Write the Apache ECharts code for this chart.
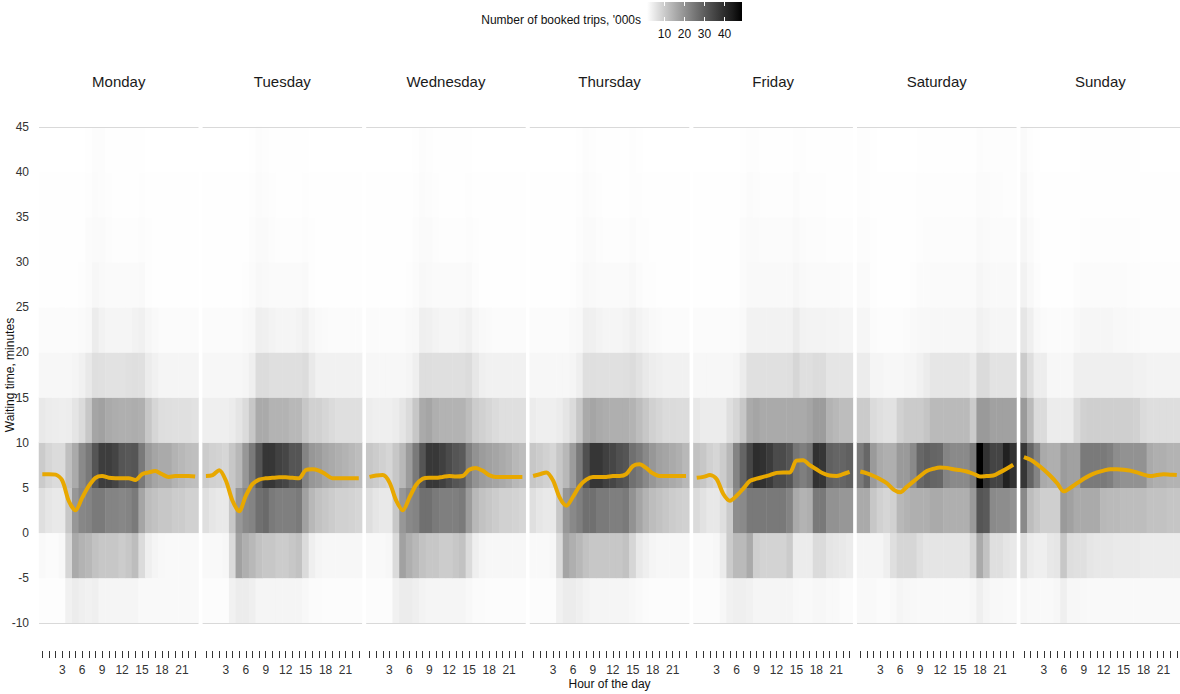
<!DOCTYPE html>
<html>
<head>
<meta charset="utf-8">
<script src="https://cdn.jsdelivr.net/npm/echarts@6.0.0/dist/echarts.min.js"></script>
<style>html,body{margin:0;padding:0;background:#fff;}#main{width:1180px;height:694px;}</style>
</head>
<body>
<div id="main"></div>
<script>
// ---------- data ----------
const days = ['Monday','Tuesday','Wednesday','Thursday','Friday','Saturday','Sunday'];
const hours = ['0','1','2','3','4','5','6','7','8','9','10','11','12','13','14','15','16','17','18','19','20','21','22','23'];
const hourLabels = [3, 6, 9, 12, 15, 18, 21];
// waiting-time bins (lower bound, minutes), 5-minute wide, from -10 up to 45
const bins = ['-10','-5','0','5','10','15','20','25','30','35','40'];
const yTicks = [-10, 45, 5];           // min, max, step of the waiting-time axis
const legendTicks = [10, 20, 30, 40];  // colour-bar labels
const legendRange = [1.3, 48.7];       // colour-bar extent, '000s

// booked trips ('000s); one row per bin (from -10 upward), 24 hourly values per row
const monday = [
  [1.6,1.6,1.6,1.6,3.6,4.4,3.9,3.6,3.9,3.0,3.0,3.0,3.0,3.0,3.0,2.2,2.2,2.2,2.2,2.2,2.2,2.2,2.2,2.2],
  [2.2,2.0,2.0,2.4,8.1,15.7,14.1,13.2,11.5,10.6,10.6,10.6,9.8,10.6,12.3,7.3,3.9,3.0,2.4,2.2,2.2,2.2,2.2,2.2],
  [6.5,5.4,4.9,4.9,10.6,19.2,22.0,22.7,24.5,24.5,22.7,22.7,22.0,22.7,24.5,16.6,12.3,11.5,10.6,10.6,9.8,9.8,8.9,8.9],
  [9.9,8.1,7.3,7.3,12.0,15.7,21.6,24.7,31.5,36.5,36.5,35.0,31.5,31.0,31.5,24.7,18.7,16.6,15.7,15.7,14.1,13.2,12.3,12.0],
  [4.9,4.4,4.2,4.0,4.2,5.6,7.3,10.6,16.6,17.4,15.7,15.2,14.9,14.9,15.2,14.9,10.6,8.1,6.8,6.5,6.3,6.3,6.3,6.0],
  [2.6,2.6,2.6,2.6,2.6,3.0,3.6,4.9,6.5,6.3,6.0,6.0,6.0,6.3,6.5,6.3,4.4,3.6,3.0,3.0,3.0,3.0,3.0,3.0],
  [2.0,2.0,2.0,2.0,2.0,2.0,2.1,2.4,4.4,3.4,3.0,3.0,3.0,3.0,3.4,3.8,2.7,2.2,2.0,2.0,2.0,2.0,2.0,2.0],
  [1.5,1.5,1.5,1.5,1.5,1.5,1.6,2.0,2.6,2.3,2.1,2.1,2.1,2.1,2.1,2.2,1.7,1.5,1.5,1.5,1.5,1.5,1.5,1.5],
  [1.5,1.5,1.5,1.4,1.4,1.4,1.5,1.9,2.1,2.1,1.8,1.7,1.7,1.7,1.7,1.8,1.6,1.5,1.4,1.4,1.4,1.4,1.4,1.4],
  [1.4,1.4,1.4,1.4,1.4,1.4,1.4,1.7,1.9,1.8,1.6,1.5,1.5,1.5,1.5,1.6,1.5,1.4,1.4,1.4,1.4,1.4,1.4,1.4],
  [1.3,1.3,1.3,1.3,1.3,1.3,1.3,1.5,1.8,1.8,1.5,1.4,1.4,1.4,1.4,1.5,1.3,1.3,1.3,1.3,1.3,1.3,1.3,1.3]
];
const tuesday = [
  [1.8,1.8,1.8,1.8,3.6,4.4,4.4,3.9,3.0,3.0,3.0,3.0,3.0,3.0,3.0,2.4,2.0,2.0,1.8,1.8,1.8,1.8,1.8,1.8],
  [2.2,2.2,2.2,2.6,7.3,17.4,14.9,13.2,11.5,10.6,10.6,9.8,9.8,10.6,11.5,7.3,3.9,3.0,2.6,2.6,2.6,2.6,2.6,2.6],
  [6.5,5.4,4.9,4.9,10.6,19.2,21.8,22.7,26.4,27.4,24.5,23.6,23.6,23.6,24.5,17.4,13.2,11.5,10.6,9.8,8.9,8.9,8.6,8.1],
  [9.8,8.9,8.6,8.1,10.6,13.2,19.2,24.5,31.5,38.0,38.0,35.8,34.7,31.5,31.5,22.7,19.2,18.3,16.6,15.7,14.9,14.1,13.2,12.3],
  [3.9,3.9,3.9,3.9,4.4,5.6,7.3,10.6,15.7,15.7,14.1,14.1,14.1,13.2,13.2,10.6,8.9,8.9,8.1,7.3,6.5,6.5,6.5,6.5],
  [2.6,2.6,2.6,2.6,2.6,2.6,3.0,3.9,7.0,7.0,6.5,6.5,6.5,6.5,6.5,7.0,4.9,3.6,3.6,3.6,3.6,3.6,3.6,3.6],
  [2.0,2.0,2.0,2.0,2.0,2.0,2.2,2.5,3.9,3.7,3.2,3.0,3.0,3.0,3.2,3.7,2.7,2.3,2.1,2.0,2.0,2.0,2.0,2.0],
  [1.5,1.5,1.5,1.5,1.5,1.5,1.6,2.0,2.5,2.3,2.1,2.1,2.1,2.1,2.1,2.2,1.7,1.5,1.5,1.5,1.5,1.5,1.5,1.5],
  [1.5,1.5,1.5,1.4,1.4,1.4,1.5,1.8,2.1,2.1,1.8,1.7,1.7,1.7,1.7,1.8,1.6,1.5,1.4,1.4,1.4,1.4,1.4,1.4],
  [1.4,1.4,1.4,1.4,1.4,1.4,1.4,1.6,1.9,1.8,1.6,1.5,1.5,1.5,1.5,1.6,1.5,1.4,1.4,1.4,1.4,1.4,1.4,1.4],
  [1.3,1.3,1.3,1.3,1.3,1.3,1.3,1.5,1.8,1.7,1.5,1.4,1.4,1.4,1.4,1.5,1.3,1.3,1.3,1.3,1.3,1.3,1.3,1.3]
];
const wednesday = [
  [1.8,1.8,1.8,1.8,3.6,4.4,4.4,3.9,3.2,3.0,3.0,3.0,3.0,3.0,3.0,2.4,2.0,2.0,1.8,1.8,1.8,1.8,1.8,1.8],
  [2.2,2.2,2.2,2.6,7.3,17.4,14.9,13.2,11.5,10.6,10.6,9.8,9.8,10.6,11.5,7.3,3.9,3.0,2.6,2.6,2.6,2.6,2.6,2.6],
  [6.5,5.4,4.9,4.9,10.6,19.2,21.8,22.7,26.4,26.4,24.5,23.6,23.6,23.6,24.5,18.3,13.2,11.5,10.6,9.8,8.9,8.9,8.6,8.1],
  [10.6,9.8,8.9,8.1,10.6,13.2,18.3,24.5,31.5,37.5,37.5,36.0,33.6,31.5,30.5,23.6,20.0,18.3,17.4,16.6,15.7,14.9,13.2,12.3],
  [4.2,3.9,3.9,3.9,4.4,5.6,7.3,10.6,15.7,16.6,14.9,14.1,14.1,14.1,14.1,12.3,9.8,8.9,8.1,7.3,6.5,6.5,6.5,6.5],
  [2.6,2.6,2.6,2.6,2.6,2.6,3.0,3.9,6.8,6.8,6.5,6.5,6.5,6.5,6.5,7.0,5.2,3.9,3.6,3.6,3.6,3.6,3.6,3.6],
  [2.0,2.0,2.0,2.0,2.0,2.0,2.2,2.5,3.9,3.7,3.2,3.0,3.0,3.0,3.2,3.7,2.8,2.3,2.1,2.0,2.0,2.0,2.0,2.0],
  [1.5,1.5,1.5,1.5,1.5,1.5,1.6,2.0,2.5,2.3,2.1,2.1,2.1,2.1,2.1,2.2,1.8,1.5,1.5,1.5,1.5,1.5,1.5,1.5],
  [1.5,1.5,1.5,1.4,1.4,1.4,1.5,1.8,2.1,2.1,1.8,1.7,1.7,1.7,1.7,1.8,1.6,1.5,1.4,1.4,1.4,1.4,1.4,1.4],
  [1.4,1.4,1.4,1.4,1.4,1.4,1.4,1.6,1.9,1.8,1.6,1.5,1.5,1.5,1.5,1.6,1.5,1.4,1.4,1.4,1.4,1.4,1.4,1.4],
  [1.3,1.3,1.3,1.3,1.3,1.3,1.3,1.5,1.8,1.7,1.5,1.4,1.4,1.4,1.4,1.5,1.3,1.3,1.3,1.3,1.3,1.3,1.3,1.3]
];
const thursday = [
  [1.8,1.8,1.8,1.8,3.6,4.4,4.4,3.9,3.2,3.0,3.0,3.0,3.0,3.0,3.0,2.6,2.2,2.0,1.8,1.8,1.8,1.8,1.8,1.8],
  [2.2,2.2,2.2,2.6,7.3,16.6,14.9,13.2,11.5,10.6,10.6,10.6,10.6,10.6,11.5,8.1,4.9,3.9,3.0,2.6,2.6,2.6,2.6,2.6],
  [6.5,5.4,4.9,4.9,10.6,19.2,21.8,23.6,26.4,26.4,24.5,24.5,23.6,23.6,24.5,20.0,16.6,14.1,12.3,11.5,10.6,9.8,9.3,8.9],
  [10.6,9.8,8.9,8.1,10.6,13.2,18.3,24.5,32.6,38.0,38.0,36.0,34.7,32.6,31.5,26.4,24.5,21.8,19.2,17.4,16.6,15.7,14.9,13.2],
  [4.4,3.9,3.9,3.9,4.4,5.6,7.3,10.6,15.7,16.6,15.7,15.2,14.9,14.9,14.9,14.1,12.3,10.6,8.9,8.1,7.3,7.3,7.0,7.0],
  [2.6,2.6,2.6,2.6,2.6,2.6,3.0,3.9,6.5,6.5,6.3,6.3,6.3,6.3,6.5,7.0,6.0,4.9,4.2,3.9,3.6,3.6,3.6,3.6],
  [2.0,2.0,2.0,2.0,2.0,2.0,2.2,2.5,3.9,3.7,3.2,3.0,3.0,3.0,3.2,3.9,3.2,2.7,2.3,2.1,2.0,2.0,2.0,2.0],
  [1.5,1.5,1.5,1.5,1.5,1.5,1.6,2.0,2.5,2.3,2.1,2.1,2.1,2.1,2.1,2.4,2.0,1.7,1.6,1.5,1.5,1.5,1.5,1.5],
  [1.5,1.5,1.5,1.4,1.4,1.4,1.5,1.8,2.1,2.1,1.8,1.7,1.7,1.7,1.7,2.0,1.7,1.6,1.5,1.4,1.4,1.4,1.4,1.4],
  [1.4,1.4,1.4,1.4,1.4,1.4,1.4,1.6,1.9,1.8,1.6,1.5,1.5,1.5,1.5,1.7,1.6,1.5,1.4,1.4,1.4,1.4,1.4,1.4],
  [1.3,1.3,1.3,1.3,1.3,1.3,1.3,1.5,1.8,1.7,1.5,1.4,1.4,1.4,1.4,1.6,1.4,1.3,1.3,1.3,1.3,1.3,1.3,1.3]
];
const friday = [
  [1.8,1.8,1.8,1.8,2.6,3.6,3.9,3.9,3.6,3.0,3.0,3.0,3.0,3.0,3.0,2.4,2.2,2.2,2.6,2.6,2.2,2.2,2.0,2.0],
  [2.2,2.2,2.2,2.6,4.4,9.9,12.8,12.8,15.7,9.3,8.5,8.5,8.5,8.5,9.9,4.4,4.4,4.4,7.2,7.2,5.6,5.2,4.9,4.4],
  [7.3,6.0,5.0,5.0,6.5,9.9,20.9,21.6,24.7,24.7,24.7,24.7,24.7,24.7,22.7,15.7,14.1,14.9,24.7,24.7,20.0,20.0,19.2,19.2],
  [11.5,10.6,8.9,8.1,9.8,13.2,22.7,28.4,34.7,40.0,39.0,36.9,33.6,33.6,31.5,25.4,23.6,25.4,39.0,38.0,29.4,28.4,28.4,29.4],
  [5.0,4.4,4.4,4.4,4.4,6.5,8.1,10.6,15.7,16.6,15.7,15.7,15.7,15.7,15.7,15.7,15.7,16.6,18.3,18.3,14.1,13.2,12.3,12.3],
  [2.6,2.6,2.6,2.6,2.6,2.6,3.0,4.4,6.3,6.3,6.3,6.3,6.3,6.3,6.5,8.1,6.5,6.5,7.0,7.0,5.6,5.6,5.6,5.6],
  [1.9,1.9,1.9,1.9,1.9,1.9,2.0,2.3,3.4,3.4,3.4,3.4,3.4,3.4,3.4,4.6,3.4,3.2,3.2,3.2,3.1,3.1,3.0,3.0],
  [1.5,1.5,1.5,1.5,1.5,1.5,1.5,2.0,2.3,2.3,2.3,2.3,2.3,2.3,2.3,2.7,2.3,2.1,2.1,2.1,2.1,2.1,2.0,2.0],
  [1.4,1.4,1.4,1.4,1.4,1.4,1.5,1.9,2.1,2.1,1.9,1.9,1.9,1.9,1.9,2.3,1.9,1.8,1.8,1.8,1.7,1.7,1.7,1.7],
  [1.4,1.4,1.4,1.4,1.4,1.4,1.4,1.7,1.9,1.8,1.6,1.6,1.6,1.6,1.6,1.9,1.7,1.6,1.6,1.6,1.5,1.5,1.5,1.5],
  [1.3,1.3,1.3,1.3,1.3,1.3,1.3,1.5,1.7,1.7,1.5,1.5,1.5,1.5,1.5,1.7,1.6,1.5,1.5,1.5,1.4,1.4,1.4,1.4]
];
const saturday = [
  [2.2,2.2,2.2,2.0,2.0,2.2,3.0,2.6,2.4,2.2,2.2,2.2,2.2,2.2,2.2,2.2,2.2,2.6,3.9,3.0,2.4,2.4,2.2,2.2],
  [3.0,3.0,3.0,3.0,3.9,6.5,8.1,8.1,8.1,6.5,5.6,5.6,5.6,5.6,5.6,5.6,5.6,8.1,15.7,11.5,6.5,6.5,5.6,4.9],
  [15.7,15.7,10.6,8.9,8.1,8.9,13.2,14.1,14.9,14.9,14.9,15.7,15.7,14.9,14.9,14.9,14.9,18.7,31.5,30.5,21.6,20.9,20.9,20.0],
  [24.5,28.0,18.7,15.7,14.9,14.9,18.7,18.7,21.6,28.0,29.4,28.4,28.0,22.7,21.6,21.6,21.6,24.5,48.7,38.8,35.0,35.0,42.5,38.8],
  [9.9,9.9,7.3,6.5,6.0,6.0,8.9,9.9,9.9,9.9,11.0,12.8,12.8,12.8,12.8,12.8,12.8,9.9,18.7,18.7,17.4,17.4,17.4,17.4],
  [4.4,4.4,3.0,3.0,2.6,2.6,2.6,3.0,3.0,3.6,4.4,5.4,5.4,5.4,5.4,5.4,5.4,4.4,7.2,7.2,5.8,5.8,5.8,5.8],
  [2.7,2.7,2.0,1.8,1.8,1.8,1.8,2.0,2.2,2.4,2.4,2.6,2.6,2.6,2.6,2.6,2.6,2.6,3.6,3.3,2.8,2.8,2.8,2.8],
  [2.1,2.1,1.7,1.5,1.5,1.5,1.5,1.5,1.7,1.9,2.0,2.1,2.1,2.1,2.1,2.1,2.1,2.1,2.7,2.4,2.3,2.3,2.3,2.3],
  [1.8,1.8,1.6,1.4,1.4,1.4,1.4,1.4,1.5,1.7,1.8,1.8,1.8,1.8,1.8,1.8,1.8,1.8,2.3,2.1,2.0,2.0,2.0,2.0],
  [1.7,1.7,1.5,1.4,1.4,1.4,1.4,1.4,1.4,1.6,1.7,1.7,1.7,1.7,1.7,1.7,1.7,1.7,2.0,1.9,1.8,1.8,1.7,1.7],
  [1.6,1.6,1.4,1.3,1.3,1.3,1.3,1.3,1.3,1.4,1.5,1.5,1.5,1.5,1.5,1.5,1.5,1.5,1.8,1.7,1.6,1.6,1.6,1.6]
];
const sunday = [
  [2.6,2.2,2.2,2.2,2.2,2.6,3.9,2.6,2.6,2.4,2.2,2.2,2.2,2.2,2.2,2.2,2.2,2.2,2.2,2.2,2.2,2.2,2.2,2.2],
  [6.8,4.4,3.9,3.9,5.0,5.4,10.6,6.8,6.3,6.3,5.4,5.0,5.0,5.0,4.7,4.7,4.7,4.7,4.4,4.4,4.4,4.4,4.4,4.4],
  [21.8,12.3,10.6,9.3,9.3,9.3,18.7,17.4,15.7,15.7,15.7,15.7,13.2,12.8,12.8,12.3,12.3,12.3,12.3,11.5,11.5,11.5,11.0,11.0],
  [38.0,28.4,22.7,15.7,14.9,14.9,18.3,17.4,17.4,24.5,24.5,24.5,24.5,23.6,20.9,20.0,20.0,20.0,20.0,15.7,14.9,14.9,14.1,14.1],
  [18.7,12.8,7.2,7.2,4.4,4.4,4.4,4.4,7.3,8.9,9.3,9.3,9.3,9.3,9.3,9.3,9.3,8.9,7.3,6.7,6.7,6.7,6.7,6.7],
  [9.9,6.8,4.2,4.2,2.6,2.6,2.6,2.6,3.9,3.9,3.9,3.9,3.9,3.9,3.9,3.9,3.9,3.6,3.6,3.3,3.3,3.3,3.3,3.3],
  [5.4,3.9,2.5,2.1,1.9,1.9,1.9,1.9,2.5,2.7,2.7,2.7,2.7,2.7,2.5,2.5,2.3,2.3,2.1,2.1,2.1,2.1,2.1,2.1],
  [3.4,2.4,1.8,1.5,1.5,1.5,1.5,1.5,1.8,1.9,1.9,1.9,1.9,1.9,1.9,1.9,1.8,1.8,1.7,1.7,1.7,1.7,1.7,1.7],
  [2.8,2.1,1.6,1.4,1.4,1.4,1.4,1.4,1.5,1.6,1.6,1.6,1.6,1.6,1.6,1.6,1.6,1.6,1.5,1.5,1.5,1.5,1.5,1.5],
  [2.4,1.8,1.5,1.4,1.4,1.4,1.4,1.4,1.4,1.5,1.5,1.5,1.5,1.5,1.5,1.5,1.5,1.5,1.4,1.4,1.4,1.4,1.4,1.4],
  [2.1,1.7,1.4,1.3,1.3,1.3,1.3,1.3,1.3,1.4,1.4,1.4,1.4,1.4,1.4,1.4,1.4,1.4,1.3,1.3,1.3,1.3,1.3,1.3]
];

// average waiting time per hour (minutes)
const mondayWait    = [6.5,6.5,6.45,5.8,3.5,2.5,3.9,5.2,6.1,6.3,6.1,6.05,6.05,6.05,5.85,6.5,6.7,6.85,6.5,6.2,6.3,6.3,6.3,6.25];
const tuesdayWait   = [6.3,6.4,6.95,5.8,3.55,2.4,4.1,5.4,5.9,6.05,6.1,6.15,6.15,6.1,6.05,6.95,7.05,6.9,6.5,6.05,6.05,6.05,6.05,6.05];
const wednesdayWait = [6.2,6.35,6.4,5.6,3.6,2.5,3.9,5.3,6.0,6.1,6.1,6.2,6.3,6.25,6.3,7.0,7.2,6.9,6.4,6.2,6.2,6.2,6.2,6.2];
const thursdayWait  = [6.3,6.5,6.7,5.8,3.9,3.0,4.0,5.2,5.9,6.2,6.2,6.2,6.3,6.3,6.5,7.4,7.6,7.2,6.6,6.3,6.3,6.3,6.3,6.3];
const fridayWait    = [6.1,6.2,6.4,5.95,4.3,3.55,4.1,4.9,5.75,6.0,6.2,6.4,6.65,6.7,6.7,8.0,8.05,7.5,7.05,6.6,6.35,6.3,6.5,6.75];
const saturdayWait  = [6.8,6.6,6.3,5.95,5.5,4.8,4.5,5.1,5.7,6.3,6.85,7.1,7.25,7.2,7.05,6.95,6.8,6.55,6.25,6.3,6.35,6.7,7.1,7.55];
const sundayWait    = [8.4,8.1,7.6,7.0,6.3,5.5,4.6,5.0,5.5,6.0,6.4,6.7,6.9,7.05,7.05,7.0,6.9,6.7,6.45,6.3,6.4,6.5,6.45,6.4];

const dayCounts = [monday, tuesday, wednesday, thursday, friday, saturday, sunday];
const dayWaits = [mondayWait, tuesdayWait, wednesdayWait, thursdayWait, fridayWait, saturdayWait, sundayWait];

// ---------- styling / layout ----------
const LEFT0 = 39, STEP = 163.6, PW = 159.5, TOP = 127, PH = 496;
const ORANGE = '#E8A800';
// grey ramp, evenly spaced in lightness (white -> black)
const GRAYS = ['#ffffff','#e2e2e2','#c6c6c6','#ababab','#919191','#777777','#5e5e5e','#474747','#303030','#1b1b1b','#000000'];
const FONT = '"Liberation Sans", Arial, sans-serif';
const CLEAR = 'rgba(0,0,0,0)';

const chart = echarts.init(document.getElementById('main'), null, {renderer: 'svg'});
const grids = [], xAxes = [], yAxes = [], series = [], titles = [], heatIdx = [];
const hourValues = hours.map(Number);

days.forEach((d, i) => {
  const left = LEFT0 + i * STEP;
  grids.push({left: left, top: TOP, width: PW, height: PH, containLabel: false, outerBoundsMode: 'none'});
  // band axis for tiles and line
  const xBase = xAxes.length;
  xAxes.push({type: 'category', gridIndex: i, data: hours, boundaryGap: true, show: false});
  // numeric axis carrying hour ticks / labels (same extent as the bands)
  xAxes.push({
    type: 'value', gridIndex: i, min: -0.5, max: 23.5, position: 'bottom', offset: 28,
    axisLine: {show: true, onZero: false, lineStyle: {color: CLEAR}},
    axisTick: {show: true, inside: false, length: 7, customValues: hourValues, lineStyle: {color: '#333', width: 1}},
    axisLabel: {customValues: hourLabels, color: '#333', fontSize: 12, margin: 13, fontFamily: FONT},
    splitLine: {show: false},
    name: i === 3 ? 'Hour of the day' : '', nameLocation: 'middle', nameGap: 27, nameMoveOverlap: false,
    nameTextStyle: {fontSize: 12, color: '#111', fontFamily: FONT}
  });
  const base = yAxes.length;
  yAxes.push({type: 'category', gridIndex: i, data: bins, show: false, position: 'left', axisLine: {onZero: false}});
  yAxes.push({
    type: 'value', gridIndex: i, min: yTicks[0], max: yTicks[1], interval: yTicks[2], position: 'left', offset: 0,
    axisLine: {show: false, onZero: false}, axisTick: {show: false},
    axisLabel: {show: i === 0, color: '#333', fontSize: 12, margin: 10, fontFamily: FONT},
    splitLine: {show: false},
    name: i === 0 ? 'Waiting time, minutes' : '', nameLocation: 'middle', nameRotate: 90, nameGap: 23, nameMoveOverlap: false,
    nameTextStyle: {fontSize: 12, color: '#111', fontFamily: FONT}
  });
  // outer grid lines (at the axis limits), drawn above the tiles
  yAxes.push({
    type: 'value', gridIndex: i, min: yTicks[0], max: yTicks[1], interval: yTicks[1] - yTicks[0], position: 'left', offset: 0, z: 3,
    axisLine: {show: false, onZero: false}, axisTick: {show: false}, axisLabel: {show: false},
    splitLine: {show: true, lineStyle: {color: '#d9d9d9', width: 1.2}}
  });
  const cells = [];
  dayCounts[i].forEach((row, r) => row.forEach((v, h) => cells.push([h, r, v])));
  heatIdx.push(series.length);
  series.push({type: 'heatmap', xAxisIndex: xBase, yAxisIndex: base, data: cells, silent: true, progressive: 0, emphasis: {disabled: true}});
  series.push({
    type: 'line', xAxisIndex: xBase, yAxisIndex: base + 1, data: dayWaits[i], symbol: 'none', smooth: 0.3,
    lineStyle: {color: ORANGE, width: 4, join: 'round'}, z: 5, silent: true
  });
  titles.push({
    text: d, left: left + PW / 2, top: 74, textAlign: 'center', padding: 0,
    textStyle: {fontSize: 15, fontWeight: 'normal', color: '#1a1a1a', fontFamily: FONT}
  });
});

// colour bar legend
const cbGrid = grids.length;
grids.push({left: 647, top: 2, width: 95, height: 19, containLabel: false, outerBoundsMode: 'none'});
const cbX = xAxes.length;
xAxes.push({
  type: 'value', gridIndex: cbGrid, min: legendRange[0], max: legendRange[1], position: 'bottom', z: 10,
  axisLine: {show: true, onZero: false, lineStyle: {color: CLEAR}},
  axisTick: {show: true, inside: true, length: 4, lineStyle: {color: '#fff', width: 1}, customValues: legendTicks},
  axisLabel: {customValues: legendTicks, color: '#111', fontSize: 12, margin: 7, fontFamily: FONT},
  splitLine: {show: false}
});
xAxes.push({
  type: 'value', gridIndex: cbGrid, min: legendRange[0], max: legendRange[1], position: 'top', z: 10,
  axisLine: {show: true, onZero: false, lineStyle: {color: CLEAR}},
  axisTick: {show: true, inside: true, length: 4, lineStyle: {color: '#fff', width: 1}, customValues: legendTicks},
  axisLabel: {show: false}, splitLine: {show: false}
});
const cbY = yAxes.length;
yAxes.push({type: 'value', gridIndex: cbGrid, min: 0, max: 1, show: false});
series.push({
  type: 'custom', xAxisIndex: cbX, yAxisIndex: cbY, data: [[legendRange[0], legendRange[1]]], silent: true, z: 1,
  renderItem: (params, api) => {
    const p0 = api.coord([api.value(0), 1]);
    const p1 = api.coord([api.value(1), 0]);
    return {
      type: 'rect',
      shape: {x: p0[0], y: p0[1], width: p1[0] - p0[0], height: p1[1] - p0[1]},
      style: {fill: new echarts.graphic.LinearGradient(0, 0, 1, 0,
        GRAYS.map((c, k) => ({offset: k / (GRAYS.length - 1), color: c})))}
    };
  }
});
titles.push({
  text: "Number of booked trips, '000s", left: 641, top: 14, textAlign: 'right', padding: 0,
  textStyle: {fontSize: 12, fontWeight: 'normal', color: '#111', fontFamily: FONT}
});

chart.setOption({
  animation: false,
  backgroundColor: '#ffffff',
  textStyle: {fontFamily: FONT},
  title: titles,
  grid: grids,
  xAxis: xAxes,
  yAxis: yAxes,
  visualMap: {
    type: 'continuous', show: false, dimension: 2, seriesIndex: heatIdx,
    min: legendRange[0], max: legendRange[1], inRange: {color: GRAYS}
  },
  series: series
});
</script>
</body>
</html>
